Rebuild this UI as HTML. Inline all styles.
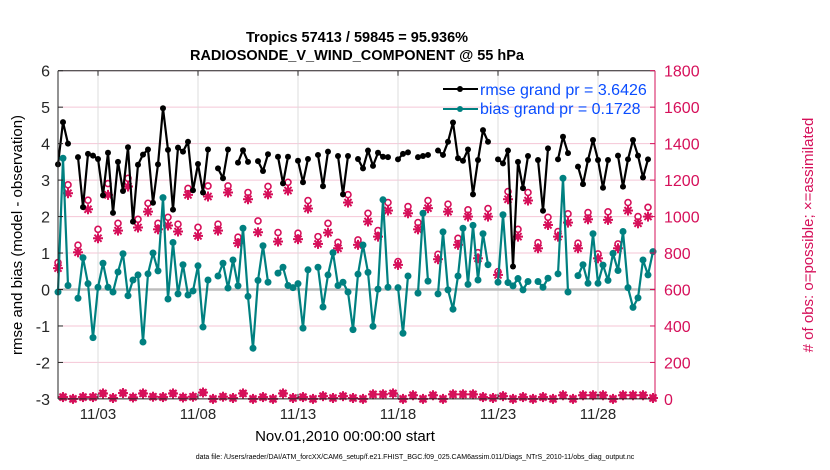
<!DOCTYPE html>
<html><head><meta charset="utf-8"><style>
body{margin:0;background:#fff;}
svg{display:block;font-family:"Liberation Sans",sans-serif;}
</style></head><body>
<svg id="chart" width="830" height="470" viewBox="0 0 830 470">
<text x="357" y="42" text-anchor="middle" font-size="14.5" font-weight="bold">Tropics 57413 / 59845 = 95.936%</text>
<text x="357" y="60" text-anchor="middle" font-size="14.5" font-weight="bold">RADIOSONDE_V_WIND_COMPONENT @ 55 hPa</text>
<g id="grid"></g>
<g id="series"></g>
<g id="axes"></g>
<text transform="translate(22,235) rotate(-90)" text-anchor="middle" font-size="15">rmse and bias (model - observation)</text>
<text transform="translate(813,235) rotate(-90)" text-anchor="middle" font-size="15" fill="#d6105a"># of obs: o=possible; ×=assimilated</text>
<text x="345" y="441" text-anchor="middle" font-size="15">Nov.01,2010 00:00:00 start</text>
<text x="415" y="459" text-anchor="middle" font-size="7">data file: /Users/raeder/DAI/ATM_forcXX/CAM6_setup/f.e21.FHIST_BGC.f09_025.CAM6assim.011/Diags_NTrS_2010-11/obs_diag_output.nc</text>
<g>
<line x1="443" y1="89" x2="478" y2="89" stroke="#000" stroke-width="2"/>
<circle cx="460" cy="89" r="3" fill="#000"/>
<text x="480" y="95" font-size="16" fill="#0a4dff">rmse grand pr = 3.6426</text>
<line x1="443" y1="109" x2="478" y2="109" stroke="#008080" stroke-width="2"/>
<circle cx="460" cy="109" r="3" fill="#008080"/>
<text x="480" y="114" font-size="16" fill="#0a4dff">bias grand pr = 0.1728</text>
</g>
</svg>
<script>
const rmse=[3.43,4.59,4.0,null,3.63,2.26,3.72,3.67,3.58,2.58,3.75,2.10,3.5,2.7,3.9,1.86,3.42,3.7,3.84,2.38,3.43,4.97,3.83,2.19,3.89,3.78,4.05,2.72,3.44,2.66,3.84,null,3.32,3.05,3.84,null,3.48,3.82,3.5,null,3.52,3.25,3.71,null,3.64,2.91,3.64,null,3.53,2.94,3.58,null,3.69,2.83,3.78,null,3.66,2.61,3.66,null,3.58,3.32,3.81,3.39,3.75,3.64,3.63,null,3.57,3.72,3.76,null,3.63,3.66,3.69,null,3.81,3.69,4.05,4.58,3.6,3.53,3.84,2.61,3.55,4.37,4.05,null,3.57,3.46,3.81,0.63,3.5,2.78,3.66,null,3.55,2.16,3.87,null,3.57,4.19,3.74,null,3.37,2.89,3.55,4.1,3.55,2.79,3.55,null,3.67,2.82,3.57,4.1,3.67,3.07,3.57,null];
const bias=[-0.07,3.6,0.11,null,-0.24,0.87,0.16,-1.32,0.06,0.72,0.06,-0.07,0.48,0.98,-0.17,0.26,0.40,-1.44,0.43,1.0,0.51,2.52,-0.26,1.29,-0.12,0.68,-0.15,-0.04,0.65,-1.03,0.26,null,0.37,0.72,0.04,0.81,0.1,1.68,-0.19,-1.61,0.25,1.2,0.2,null,0.45,0.61,0.11,0.05,0.16,-1.06,0.54,null,0.61,-0.48,0.4,1.01,0.11,0.2,-0.07,-1.1,0.42,1.22,0.47,-1.01,0.01,2.46,0.06,null,0.05,-1.2,0.37,null,-0.1,2.09,0.23,null,-0.12,1.58,-0.01,-0.54,0.37,1.68,0.14,1.76,0.26,1.53,0.68,null,0.2,2.05,0.19,0.1,0.3,-0.01,0.22,null,0.22,0.06,0.31,null,0.43,3.05,-0.07,null,0.38,0.68,0.17,1.53,0.17,0.67,0.25,0.99,0.52,1.59,0.05,-0.49,-0.23,0.81,0.4,1.04];
const possMain=[748,1174,843,1090,930,1181,963,1210,985,1073,963,996,958,1154,941,1168,958,1168,887,1132,976,1165,912,1188,909,1088,890,963,859,1120,872,1018,923,1077,753,1055,967,1088,793,1068,881,1037,802,1044,698,1137,930,1132,857,996,918,1015,854,1022,795,1026,850,1077,1000,1051];
const assimMain=[717,1128,804,1040,881,1119,923,1165,940,1027,930,951,918,1119,894,1110,923,1132,854,1095,914,1122,863,1143,876,1044,850,912,826,1077,845,973,890,1033,735,1018,930,1046,766,1027,845,1000,771,1000,680,1095,890,1088,826,954,890,967,826,985,771,982,826,1033,963,1000];
const obsOff=[10,0,10,10,30,5,32,8,30,12,10,30,8,12,35,0,12,5,30,0,10,0,30,5,10,0,15,5,15,5,0,25,25,30,0,20,0,20,0,25,25,25,10,5,15,0,10,0,10,0,20,0,20,20,20,0,20,20,20,5];
const yTicks=[-3,-2,-1,0,1,2,3,4,5,6];
const rTicks=[0,200,400,600,800,1000,1200,1400,1600,1800];
const xTickDays=[2,7,12,17,22,27];
const xTickLabels=["11/03","11/08","11/13","11/18","11/23","11/28"];

const NS="http://www.w3.org/2000/svg";
const L=58,R=655,T=70.7,B=398.9;
const X=d=>L+d*20;
const Y=v=>B-(v+3)*(B-T)/9;
const YR=c=>B-c*(B-T)/1800;
function mk(tag,attrs,parent){const e=document.createElementNS(NS,tag);for(const k in attrs)e.setAttribute(k,attrs[k]);parent.appendChild(e);return e;}
const grid=document.getElementById('grid'),ser=document.getElementById('series'),ax=document.getElementById('axes');

yTicks.forEach(v=>{const l=mk('line',{x1:L,x2:R,y1:Y(v),y2:Y(v),stroke:'#f4c6d6','stroke-width':1},grid);

});
xTickDays.forEach(d=>{const l=mk('line',{x1:X(d),x2:X(d),y1:T,y2:B,stroke:'#dcdcdc','stroke-width':1},grid);

});
const zl=mk('line',{x1:L,x2:R,y1:Y(0),y2:Y(0),stroke:'#bdbdbd','stroke-width':2.5},grid);



function drawLine(arr,color,r,name){
  let d='',pen=false;
  arr.forEach((v,i)=>{if(v===null){pen=false;return;}d+=(pen?'L':'M')+X(i*0.25)+' '+Y(v)+' ';pen=true;});
  const p=mk('path',{d:d,fill:'none',stroke:color,'stroke-width':2.2,'stroke-linejoin':'round'},ser);
  
  
  arr.forEach((v,i)=>{if(v===null)return;const c=mk('circle',{cx:X(i*0.25),cy:Y(v),r:r,fill:color},ser);
  
  });
}
function star(cx,cy){const g=mk('g',{stroke:'#d6105a','stroke-width':2},ser);
  
  
  for(let a=0;a<4;a++){const t=a*Math.PI/4,s=5;mk('line',{x1:cx-s*Math.cos(t),y1:cy-s*Math.sin(t),x2:cx+s*Math.cos(t),y2:cy+s*Math.sin(t)},g);}}
function circ(cx,cy){const c=mk('circle',{cx:cx,cy:cy,r:3,fill:'#fff',stroke:'#d6105a','stroke-width':1.6},ser);
  
  }
possMain.forEach((c,k)=>{const x=X(k*0.5);circ(x,YR(c));});
assimMain.forEach((c,k)=>{const x=X(k*0.5);star(x,YR(c));});
obsOff.forEach((c,k)=>{const x=X(k*0.5+0.25);circ(x,YR(c));star(x,YR(c));
  const f=mk('circle',{cx:x,cy:YR(c),r:3.2,fill:'#d6105a'},ser);
  
  });
drawLine(rmse,'#000',3,'rmse');
drawLine(bias,'#008080',3.5,'bias');

let a=mk('line',{x1:L,x2:R,y1:T,y2:T,stroke:'#262626','stroke-width':1},ax);

a=mk('line',{x1:L,x2:R,y1:B,y2:B,stroke:'#262626','stroke-width':1},ax);

a=mk('line',{x1:L,x2:L,y1:T,y2:B,stroke:'#262626','stroke-width':1},ax);

a=mk('line',{x1:R,x2:R,y1:T,y2:B,stroke:'#d6105a','stroke-width':1},ax);

yTicks.forEach(v=>{mk('line',{x1:L,x2:L+5,y1:Y(v),y2:Y(v),stroke:'#262626'},ax);
  const t=mk('text',{x:L-8,y:Y(v)+6,'text-anchor':'end','font-size':16,fill:'#262626'},ax);t.textContent=v;
  
  });
rTicks.forEach(c=>{mk('line',{x1:R-5,x2:R,y1:YR(c),y2:YR(c),stroke:'#d6105a'},ax);
  const t=mk('text',{x:R+9,y:YR(c)+6,'font-size':16,fill:'#d6105a'},ax);t.textContent=c;
  
  });
xTickDays.forEach((d,k)=>{mk('line',{x1:X(d),x2:X(d),y1:B,y2:B-5,stroke:'#262626'},ax);mk('line',{x1:X(d),x2:X(d),y1:T,y2:T+5,stroke:'#262626'},ax);
  const t=mk('text',{x:X(d),y:B+20,'text-anchor':'middle','font-size':15,fill:'#262626'},ax);t.textContent=xTickLabels[k];
  
  });
</script>
</body></html>
